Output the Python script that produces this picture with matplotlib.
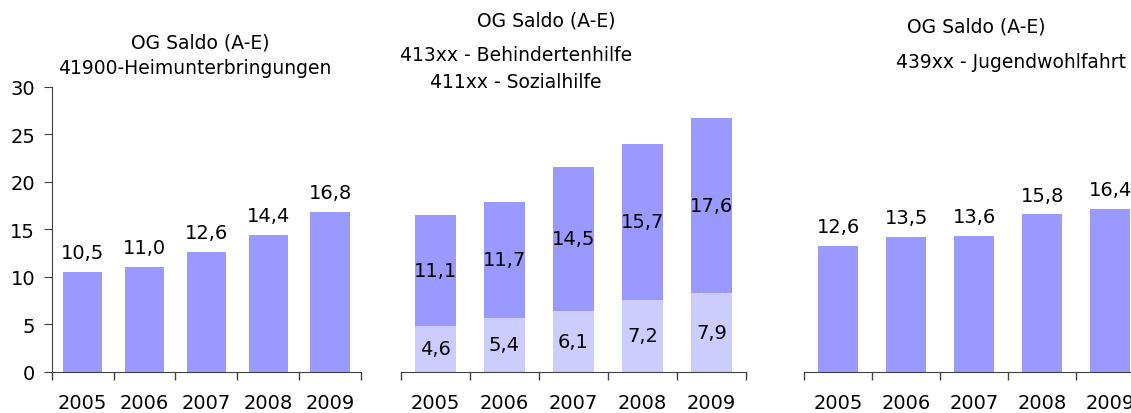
import matplotlib
matplotlib.use("Agg")
import matplotlib.pyplot as plt
import numpy as np

plt.rcParams['font.family'] = ['DejaVu Sans']

years = ["2005", "2006", "2007", "2008", "2009"]
heim = [10.5, 11.0, 12.6, 14.4, 16.8]
sozial = [4.6, 5.4, 6.1, 7.2, 7.9]
behind = [11.1, 11.7, 14.5, 15.7, 17.6]
jugend = [12.6, 13.5, 13.6, 15.8, 16.4]

C_DARK = "#9999FF"
C_LIGHT = "#CCCCFF"
AX_COL = "#404040"
FS = 14
FT = 13.5

W, H = 1131, 414
fig = plt.figure(figsize=(W / 100, H / 100), dpi=100)

def px_axes(x0, x1, ytop, ybot):
    return fig.add_axes([x0 / W, (H - ybot) / H, (x1 - x0) / W, (ybot - ytop) / H])

def fmt(v):
    return f"{v:.1f}".replace(".", ",")

def style(ax, show_y):
    n = len(years)
    ax.set_xlim(-0.5, n - 0.5)
    for s in ["top", "right"]:
        ax.spines[s].set_visible(False)
    ax.spines["bottom"].set_color(AX_COL)
    ax.spines["left"].set_color(AX_COL)
    ax.set_xticks(np.arange(-0.5, n, 1.0))
    ax.set_xticklabels([])
    ax.set_xticks(np.arange(n), minor=True)
    ax.set_xticklabels(years, minor=True, fontsize=FS)
    ax.tick_params(axis="x", which="major", direction="out", length=6, color=AX_COL, width=1)
    ax.tick_params(axis="x", which="minor", length=0, pad=15)
    if show_y:
        ax.set_yticks(np.arange(0, 31, 5))
        ax.tick_params(axis="y", direction="out", length=6, color=AX_COL, labelsize=FS, pad=6)
    else:
        ax.spines["left"].set_visible(False)
        ax.set_yticks([])

x = np.arange(len(years))

# Left panel
ax1 = px_axes(51.7, 361, 87.7, 372.7)
ax1.bar(x, heim, width=0.635, color=C_DARK)
ax1.set_ylim(0, 30)
style(ax1, True)
for xi, v in zip(x, heim):
    ax1.annotate(fmt(v), (xi, v), xytext=(0, 14), textcoords="offset points",
                 ha="center", va="center", fontsize=FS)
fig.text(200.5 / W, 1 - 42.7 / H, "OG Saldo (A-E)", ha="center", va="center", fontsize=FT)
fig.text(194.7 / W, 1 - 68.3 / H, "41900-Heimunterbringungen", ha="center", va="center", fontsize=FT)

# Middle panel
top_lim = 285 / 9.95
ax2 = px_axes(400.7, 746, 87.7, 372.7)
ax2.bar(x, sozial, width=0.6, color=C_LIGHT)
ax2.bar(x, behind, width=0.6, bottom=sozial, color=C_DARK)
ax2.set_ylim(0, top_lim)
style(ax2, False)
for xi, s, b in zip(x, sozial, behind):
    ax2.text(xi, s / 2, fmt(s), ha="center", va="center", fontsize=FS)
    ax2.text(xi, s + b / 2, fmt(b), ha="center", va="center", fontsize=FS)
fig.text(546 / W, 1 - 20.7 / H, "OG Saldo (A-E)", ha="center", va="center", fontsize=FT)
fig.text(515.8 / W, 1 - 56 / H, "413xx - Behindertenhilfe", ha="center", va="center", fontsize=FT)
fig.text(515.8 / W, 1 - 82.7 / H, "411xx - Sozialhilfe", ha="center", va="center", fontsize=FT)

# Right panel
ax3 = px_axes(804.3, 1144.3, 87.7, 372.7)
ax3.bar(x, jugend, width=0.59, color=C_DARK)
ax3.set_ylim(0, top_lim)
style(ax3, False)
for xi, v in zip(x, jugend):
    ax3.annotate(fmt(v), (xi, v), xytext=(0, 14), textcoords="offset points",
                 ha="center", va="center", fontsize=FS)
fig.text(976.7 / W, 1 - 26.7 / H, "OG Saldo (A-E)", ha="center", va="center", fontsize=FT)
fig.text(1010.5 / W, 1 - 62.7 / H, "439xx - Jugendwohlfahrt", ha="center", va="center", fontsize=FT)

fig.savefig("out.png", dpi=100)
